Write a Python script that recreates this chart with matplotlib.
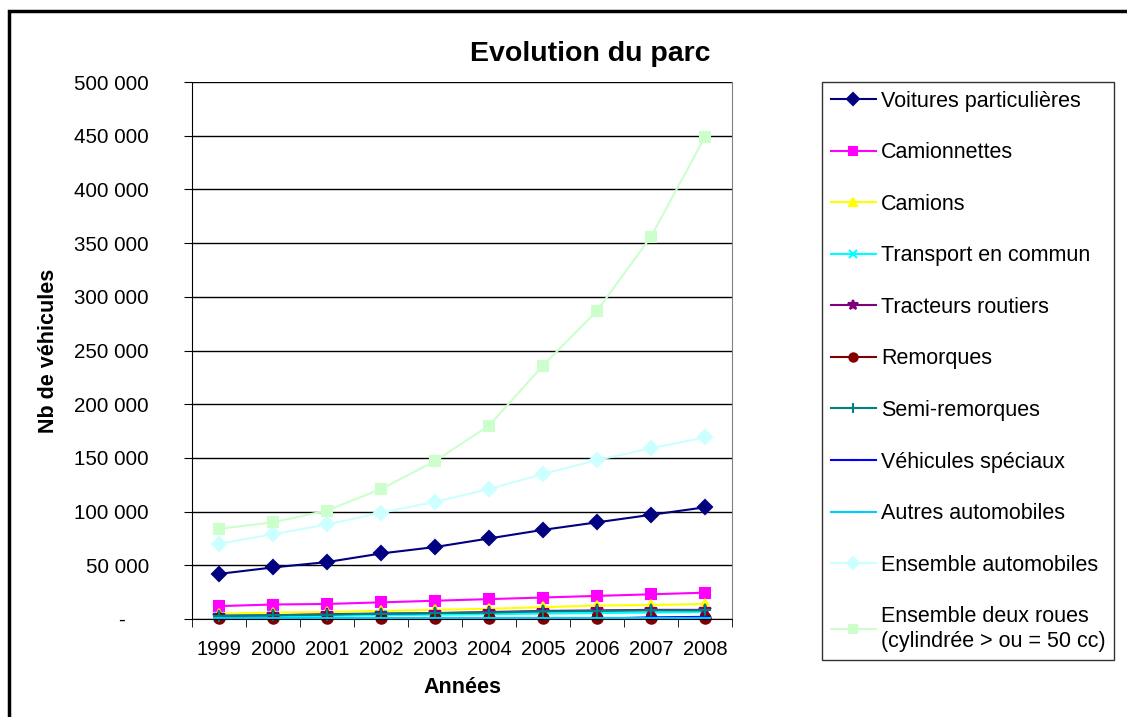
import matplotlib.pyplot as plt
from matplotlib.patches import Rectangle
from matplotlib.ticker import FuncFormatter, MultipleLocator, FixedLocator

plt.rcParams["font.family"] = ["Liberation Sans", "DejaVu Sans"]

years = ["1999", "2000", "2001", "2002", "2003", "2004", "2005", "2006", "2007", "2008"]

voitures = [42000, 48000, 53000, 61000, 67000, 75000, 83000, 90000, 97000, 104000]
camionnettes = [12000, 13500, 14000, 15500, 17000, 18500, 20000, 21500, 23000, 24500]
camions = [5000, 6000, 6500, 7500, 8500, 9500, 11000, 12500, 13000, 14000]
transport = [2000, 2500, 3000, 3500, 4000, 4500, 5000, 5500, 6000, 6500]
tracteurs = [3000, 3500, 4500, 5000, 5500, 6500, 7500, 8000, 8500, 8500]
remorques = [500, 500, 500, 500, 500, 500, 500, 500, 500, 500]
semi = [3000, 3500, 4000, 5000, 5500, 6000, 7000, 7500, 8000, 8000]
speciaux = [300, 300, 300, 300, 300, 300, 300, 300, 1500, 2000]
autres = [800, 800, 800, 800, 800, 800, 800, 800, 800, 800]
ens_auto = [70000, 79000, 88000, 99000, 109000, 121000, 135000, 148000, 159000, 169000]
ens_deux = [84000, 90000, 101000, 121000, 147000, 180000, 236000, 287000, 356000, 449000]

series = [
    ("Voitures particulières", voitures, "#000080", "D", 7.5),
    ("Camionnettes", camionnettes, "#FF00FF", "s", 7.5),
    ("Camions", camions, "#FFFF00", "^", 7.5),
    ("Transport en commun", transport, "#00FFFF", "x", 7.5),
    ("Tracteurs routiers", tracteurs, "#800080", "*", 9),
    ("Remorques", remorques, "#800000", "o", 7.5),
    ("Semi-remorques", semi, "#008080", "+", 9),
    ("Véhicules spéciaux", speciaux, "#0000FF", "_", 7),
    ("Autres automobiles", autres, "#00CCFF", "_", 9),
    ("Ensemble automobiles", ens_auto, "#CCFFFF", "D", 7.5),
    ("Ensemble deux roues\n(cylindrée > ou = 50 cc)", ens_deux, "#CCFFCC", "s", 7.5),
]

fig = plt.figure(figsize=(11.27, 7.17), dpi=100)
fig.patch.set_facecolor("white")
ax = fig.add_axes([192 / 1127, 1 - 619 / 717, 540 / 1127, 537 / 717])

x = list(range(len(years)))
for label, vals, color, marker, ms in series:
    ax.plot(x, vals, color=color, lw=1.5, marker=marker, ms=ms,
            markeredgecolor=color, markerfacecolor=color, mew=1.5, label=label,
            clip_on=False)

ax.set_xlim(-0.5, len(years) - 0.5)
ax.set_ylim(0, 500000)
ax.yaxis.set_major_locator(MultipleLocator(50000))
# accounting style: zero shown as a dash, offset left by trailing spaces
ax.yaxis.set_major_formatter(FuncFormatter(
    lambda v, p: "-    " if v == 0 else f"{int(v):,}".replace(",", " ")))
ax.grid(axis="y", color="black", lw=1)
ax.set_axisbelow(True)

ax.set_xticks(x)
ax.set_xticklabels(years)
ax.xaxis.set_minor_locator(FixedLocator([i - 0.5 for i in range(len(years) + 1)]))
ax.tick_params(axis="x", which="major", length=0, pad=15, labelsize=14.5)
ax.tick_params(axis="x", which="minor", length=6, direction="out", color="black")
ax.tick_params(axis="y", length=6, direction="out", labelsize=14.8, pad=25)

for side in ["left", "bottom"]:
    ax.spines[side].set_color("black")
ax.spines["top"].set_visible(False)
ax.spines["right"].set_color("#808080")

ax.set_ylabel("Nb de véhicules", fontsize=15.5, fontweight="bold", labelpad=11)
ax.set_xlabel("Années", fontsize=15.5, fontweight="bold", labelpad=13)

fig.text(590 / 1127, 1 - 54 / 717, "Evolution du parc", fontsize=20.5,
         fontweight="bold", ha="center", va="center")

leg = ax.legend(loc="upper left", bbox_to_anchor=(822 / 1127, 1 - 82 / 717),
                bbox_transform=fig.transFigure, fontsize=15.5, frameon=True,
                fancybox=False, edgecolor="black", handlelength=2.1,
                handletextpad=0.25, labelspacing=1.42, borderpad=0.4,
                borderaxespad=0, markerscale=0.8)
leg.get_frame().set_linewidth(1.0)

fig.patches.append(Rectangle((9 / 1127, -0.1), 1.2, 1 - 11 / 717 + 0.1,
                             transform=fig.transFigure, fill=False,
                             edgecolor="black", lw=2.5))

fig.savefig("out.png", dpi=100, facecolor="white")
